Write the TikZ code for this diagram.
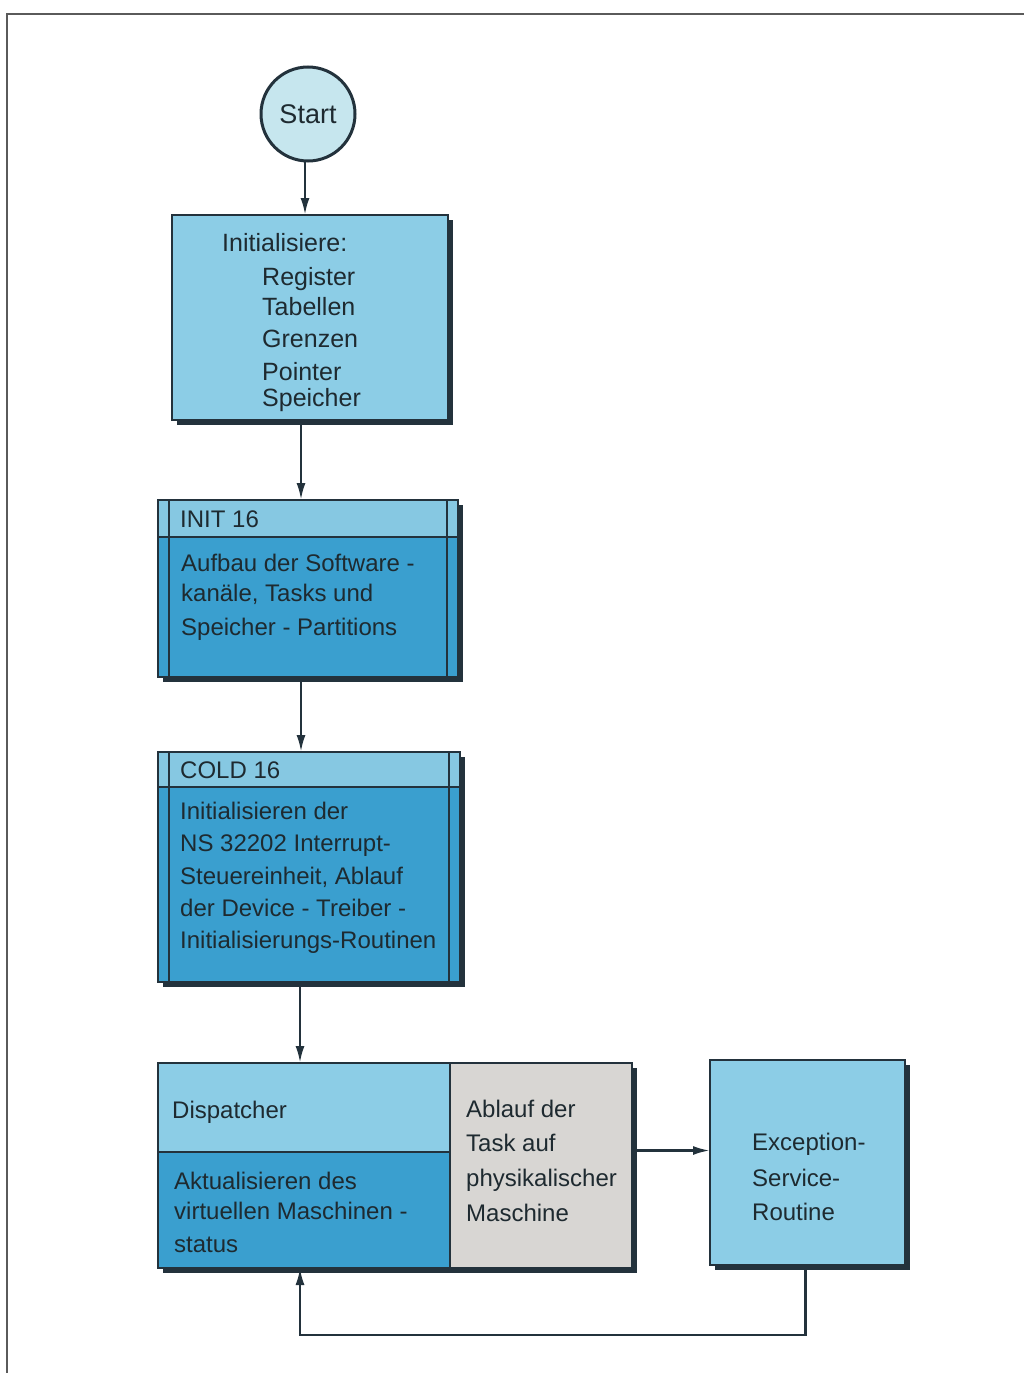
\documentclass[tikz,border=0pt]{standalone}
\usepackage{fontspec}
\setmainfont{Liberation Sans}
\usetikzlibrary{arrows.meta,shadows}
\definecolor{edge}{HTML}{23323C}
\definecolor{lightbox}{HTML}{8CCDE6}
\definecolor{darkbox}{HTML}{3A9FCF}
\definecolor{headbox}{HTML}{86C8E2}
\definecolor{graybox}{HTML}{D8D6D3}
\definecolor{startfill}{HTML}{C6E6EE}
\definecolor{txt}{HTML}{1E2A30}
\definecolor{framec}{HTML}{5A5A5A}
\begin{document}
\begin{tikzpicture}[x=1pt,y=-1pt,
  boxbg/.style={rectangle, inner sep=0pt, outer sep=0pt,
    drop shadow={shadow xshift=5pt, shadow yshift=-5pt, fill=edge, opacity=1}},
  outline/.style={draw=edge, line width=2.5pt},
  arr/.style={draw=edge, line width=2.5pt, -{Latex[length=17pt,width=9pt]}},
  conn/.style={draw=edge, line width=2pt},
  txtline/.style={anchor=base west, inner sep=0pt, text=txt, font=\fontsize{24}{28}\selectfont},
]
\useasboundingbox (0,0) rectangle (1024,1373);
% frame
\draw[framec, line width=2pt] (7,1373) -- (7,14) -- (1024,14);

% start
\node[circle, minimum size=94pt, inner sep=0pt, outer sep=0pt, fill=startfill, draw=edge, line width=3pt,
  text=txt, font=\fontsize{27}{30}\selectfont] (start) at (308,114) {Start};

% box 1
\node[boxbg, fill=lightbox, minimum width=276pt, minimum height=205pt] (b1) at (310,317.5) {};
\draw[outline] (b1.north west) rectangle (b1.south east);
\node[txtline, font=\fontsize{25}{28}\selectfont] (b1h) at (222,251) {Initialisiere:};
\foreach \t/\y [count=\i] in {Register/285, Tabellen/315, Grenzen/347, Pointer/380, Speicher/406}
  {\node[txtline, font=\fontsize{25}{28}\selectfont] (b1t\i) at (262,\y) {\t};}

% box 2 INIT 16
\node[boxbg, fill=darkbox, minimum width=300pt, minimum height=177pt] (b2) at (308,588.5) {};
\fill[headbox] (b2.north west) rectangle ([yshift=-37pt]b2.north east);
\draw[conn] ([yshift=-37pt]b2.north west) -- ([yshift=-37pt]b2.north east);
\draw[conn] ([xshift=11pt]b2.north west) -- ([xshift=11pt]b2.south west);
\draw[conn] ([xshift=-11pt]b2.north east) -- ([xshift=-11pt]b2.south east);
\draw[outline] (b2.north west) rectangle (b2.south east);
\node[txtline] (b2h) at (180,527) {INIT 16};
\foreach \t/\y [count=\i] in {{Aufbau der Software -}/571, {kanäle, Tasks und}/601, {Speicher - Partitions}/635}
  {\node[txtline] (b2t\i) at (181,\y) {\t};}

% box 3 COLD 16
\node[boxbg, fill=darkbox, minimum width=302pt, minimum height=230pt] (b3) at (309,867) {};
\fill[headbox] (b3.north west) rectangle ([yshift=-35pt]b3.north east);
\draw[conn] ([yshift=-35pt]b3.north west) -- ([yshift=-35pt]b3.north east);
\draw[conn] ([xshift=11pt]b3.north west) -- ([xshift=11pt]b3.south west);
\draw[conn] ([xshift=-11pt]b3.north east) -- ([xshift=-11pt]b3.south east);
\draw[outline] (b3.north west) rectangle (b3.south east);
\node[txtline] (b3h) at (180,778) {COLD 16};
\foreach \t/\y [count=\i] in {{Initialisieren der}/819, {NS 32202 Interrupt-}/851, {Steuereinheit, Ablauf}/884, {der Device - Treiber -}/916, {Initialisierungs-Routinen}/948}
  {\node[txtline] (b3t\i) at (180,\y) {\t};}

% box 4 dispatcher
\node[boxbg, fill=graybox, minimum width=474pt, minimum height=205pt] (b4) at (395,1165.5) {};
\fill[lightbox] (b4.north west) rectangle ([shift={(292pt,-89pt)}]b4.north west);
\fill[darkbox] ([yshift=-89pt]b4.north west) rectangle ([xshift=292pt]b4.south west);
\draw[conn] ([yshift=-89pt]b4.north west) -- ([shift={(292pt,-89pt)}]b4.north west);
\draw[conn] ([xshift=292pt]b4.north west) -- ([xshift=292pt]b4.south west);
\draw[outline] (b4.north west) rectangle (b4.south east);
\node[txtline] (b4h) at (172,1118) {Dispatcher};
\foreach \t/\y [count=\i] in {{Aktualisieren des}/1189, {virtuellen Maschinen -}/1219, {status}/1252}
  {\node[txtline] (b4l\i) at (174,\y) {\t};}
\foreach \t/\y [count=\i] in {{Ablauf der}/1117, {Task auf}/1151, {physikalischer}/1186, {Maschine}/1221}
  {\node[txtline] (b4r\i) at (466,\y) {\t};}

% box 5 exception
\node[boxbg, fill=lightbox, minimum width=195pt, minimum height=205pt] (b5) at (807.5,1162.5) {};
\draw[outline] (b5.north west) rectangle (b5.south east);
\foreach \t/\y [count=\i] in {{Exception-}/1150, {Service-}/1186, {Routine}/1220}
  {\node[txtline] (b5t\i) at (752,\y) {\t};}

% connectors
\draw[arr] ([xshift=-3pt]start.south) -- ([xshift=-3pt]start.south |- b1.north);
\draw[arr] ([xshift=-9pt]b1.south) -- ([xshift=-9pt]b1.south |- b2.north);
\draw[arr] ([xshift=-7pt]b2.south) -- ([xshift=-7pt]b2.south |- b3.north);
\draw[arr] ([xshift=-9pt]b3.south) -- ([xshift=-9pt]b3.south |- b4.north);
\coordinate (b5in) at ([yshift=12pt]b5.west);
\draw[arr] (b4.east |- b5in) -- (b5in);
\draw[arr] ([xshift=-2pt]b5.south) -- ++(0,70) -| ([xshift=-9pt]b3.south |- b4.south);
\end{tikzpicture}
\end{document}
